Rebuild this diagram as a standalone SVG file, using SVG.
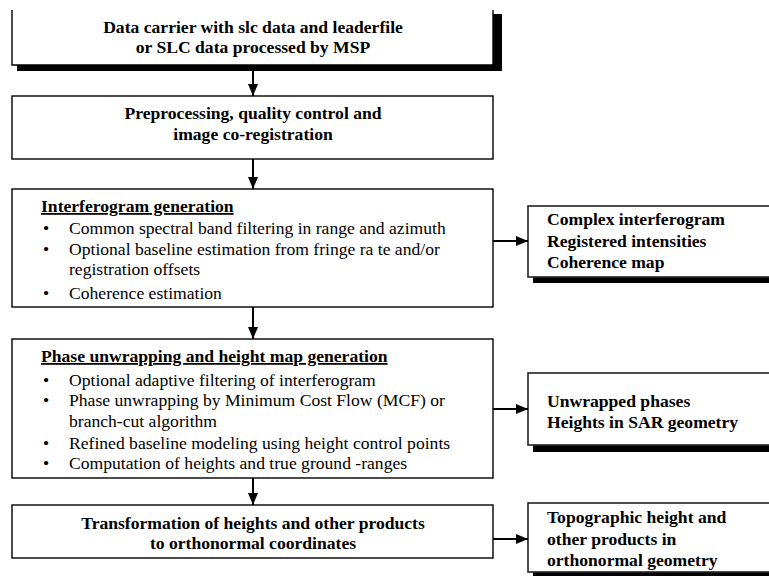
<svg xmlns="http://www.w3.org/2000/svg" width="769" height="576" viewBox="0 0 769 576">
  <style>
    .box { fill: #fff; stroke: #000; stroke-width: 1.4; }
    .rbox { fill: #fff; stroke: #222; stroke-width: 1.6; }
    .shadow { fill: #000; }
    .b { font-family: "Liberation Serif", "Times New Roman", serif; font-weight: bold; font-size: 17.6px; fill: #000; }
    .r { font-family: "Liberation Serif", "Times New Roman", serif; font-size: 17.6px; fill: #000; }
    .c { text-anchor: middle; }
    .u { text-decoration: underline; }
    .conn { stroke: #000; stroke-width: 2; fill: none; marker-end: url(#arrow); }
  </style>
  <defs>
    <marker id="arrow" markerUnits="userSpaceOnUse" markerWidth="12" markerHeight="12" viewBox="0 0 12 12" refX="12" refY="6" orient="auto">
      <path d="M0,1 L12,6 L0,11 Z" fill="#000"/>
    </marker>
  </defs>
  <rect width="769" height="576" fill="#fff"/>

  <!-- input data -->
  <g id="input">
    <rect class="shadow" x="17" y="65" width="485" height="6"/>
    <rect class="shadow" x="493" y="14" width="9" height="57"/>
    <path class="box" d="M12,10 V65 H493 V10"/>
    <text class="b c" x="253" y="33">Data carrier with slc data and leaderfile</text>
    <text class="b c" x="253" y="53">or SLC data processed by MSP</text>
  </g>

  <!-- preprocessing -->
  <g id="preprocessing">
    <rect class="box" x="12" y="96" width="481" height="63"/>
    <text class="b c" x="253" y="119">Preprocessing, quality control and</text>
    <text class="b c" x="253" y="140">image co-registration</text>
  </g>

  <!-- interferogram generation -->
  <g id="interferogram">
    <rect class="box" x="12" y="189" width="481" height="118"/>
    <text class="b u" x="41" y="212">Interferogram generation</text>
    <g class="r">
      <text x="43" y="234">•</text><text x="69" y="234">Common spectral band filtering in range and azimuth</text>
      <text x="43" y="255">•</text><text x="69" y="255">Optional baseline estimation from fringe ra te and/or</text>
      <text x="69" y="275">registration offsets</text>
      <text x="43" y="299">•</text><text x="69" y="299">Coherence estimation</text>
    </g>
  </g>

  <!-- interferogram products -->
  <g id="interferogram-products">
    <rect class="shadow" x="533" y="277" width="236" height="6"/>
    <rect class="rbox" x="528" y="206" width="250" height="71"/>
    <text class="b" x="547" y="225">Complex interferogram</text>
    <text class="b" x="547" y="247">Registered intensities</text>
    <text class="b" x="547" y="268">Coherence map</text>
  </g>

  <!-- phase unwrapping -->
  <g id="unwrapping">
    <rect class="box" x="12" y="339" width="481" height="139"/>
    <text class="b u" x="41" y="362">Phase unwrapping and height map generation</text>
    <g class="r">
      <text x="43" y="386">•</text><text x="69" y="386">Optional adaptive filtering of interferogram</text>
      <text x="43" y="406">•</text><text x="69" y="406">Phase unwrapping by Minimum Cost Flow (MCF) or</text>
      <text x="69" y="427">branch-cut algorithm</text>
      <text x="43" y="449">•</text><text x="69" y="449">Refined baseline modeling using height control  points</text>
      <text x="43" y="469">•</text><text x="69" y="469">Computation of heights and true ground -ranges</text>
    </g>
  </g>

  <!-- unwrapping products -->
  <g id="unwrapping-products">
    <rect class="shadow" x="533" y="445" width="236" height="7"/>
    <rect class="rbox" x="528" y="373" width="250" height="72"/>
    <text class="b" x="547" y="407">Unwrapped phases</text>
    <text class="b" x="547" y="428">Heights in SAR geometry</text>
  </g>

  <!-- geocoding -->
  <g id="transformation">
    <rect class="box" x="12" y="505" width="481" height="53"/>
    <text class="b c" x="253" y="529">Transformation of heights and other products</text>
    <text class="b c" x="253" y="549">to orthonormal coordinates</text>
  </g>

  <!-- geocoded products -->
  <g id="geocoded-products">
    <rect class="shadow" x="533" y="572" width="236" height="6"/>
    <rect class="rbox" x="528" y="503" width="250" height="69"/>
    <text class="b" x="547" y="523">Topographic height and</text>
    <text class="b" x="547" y="545">other products in</text>
    <text class="b" x="547" y="566">orthonormal geometry</text>
  </g>

  <!-- connectors -->
  <g id="connectors">
    <line class="conn" x1="253" y1="71" x2="253" y2="96"/>
    <line class="conn" x1="253" y1="159" x2="253" y2="189"/>
    <line class="conn" x1="253" y1="307" x2="253" y2="339"/>
    <line class="conn" x1="253" y1="478" x2="253" y2="505"/>
    <line class="conn" x1="493" y1="241" x2="528" y2="241"/>
    <line class="conn" x1="493" y1="409" x2="528" y2="409"/>
    <line class="conn" x1="493" y1="539" x2="528" y2="539"/>
  </g>
</svg>
